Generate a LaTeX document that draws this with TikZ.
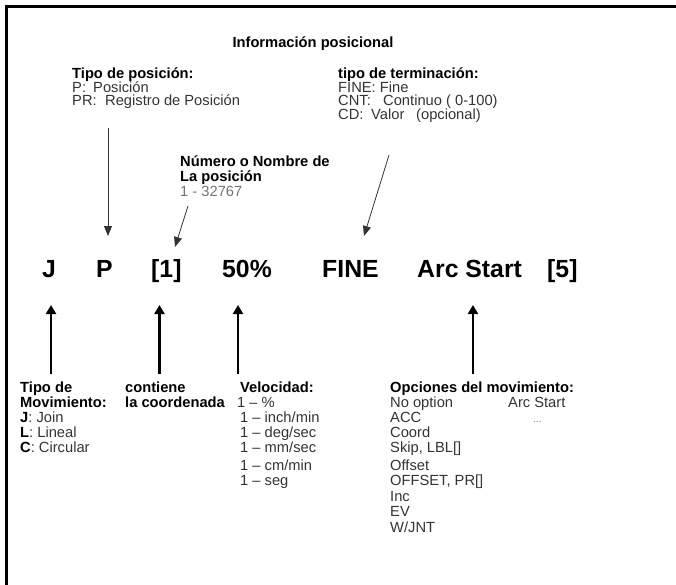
\documentclass[tikz,border=0pt]{standalone}
\usepackage{fontspec}
\setmainfont{Liberation Sans}
\usetikzlibrary{arrows.meta}
\begin{document}
\begin{tikzpicture}[x=1pt,y=-1pt,
  lbl/.style={anchor=base west, inner sep=0pt, font=\fontsize{14.7}{15}\selectfont, text=black!80},
  hd/.style={anchor=base west, inner sep=0pt, font=\fontsize{14.7}{15}\selectfont\bfseries, text=black},
  gry/.style={lbl, text=black!55},
  big/.style={anchor=base west, inner sep=0pt, font=\fontsize{24.8}{26}\selectfont\bfseries},
  thinarrow/.style={draw=black!80, line width=0.8pt, -{Triangle[length=10pt,width=8pt]}},
  thickarrow/.style={line width=2.8pt, -{Triangle[length=9pt,width=10pt]}}]
\useasboundingbox (0,0) rectangle (676,585);
\draw[line width=3pt] (676,6.5) -- (6.5,6.5) -- (6.5,585);

% title
\node[hd, anchor=base] (title) at (313,48) {Información posicional};

% top left
\node[hd] (tp) at (72,79) {Tipo de posición:};
\node[lbl] (tp1a) at (72,92.5) {P:};
\node[lbl] (tp1b) at (93,92.5) {Posición};
\node[lbl] (tp2a) at (72,106) {PR:};
\node[lbl] (tp2b) at (105,106) {Registro de Posición};

% top right
\node[hd] (tt) at (338,79) {tipo de terminación:};
\node[lbl] (tt1) at (338,92.5) {FINE: Fine};
\node[lbl] (tt2a) at (338,106) {CNT:};
\node[lbl] (tt2b) at (383,106) {Continuo ( 0-100)};
\node[lbl] (tt3a) at (338,119.5) {CD:};
\node[lbl] (tt3b) at (371,119.5) {Valor};
\node[lbl] (tt3c) at (416,119.5) {(opcional)};

% middle
\node[hd] (nn1) at (180,166.5) {Número o Nombre de};
\node[hd] (nn2) at (180,181.5) {La posición};
\node[gry] (nn3) at (180,196.5) {1 - 32767};

% big row
\node[big] (J) at (42,277) {J};
\node[big] (P) at (96,277) {P};
\node[big] (B1) at (151,277) {[1]};
\node[big] (V) at (222,277) {50\%};
\node[big] (F) at (322,277) {FINE};
\node[big] (A) at (417,277) {Arc Start};
\node[big] (B5) at (547,277) {[5]};

% thin arrows
\coordinate (p0) at (108,128);
\coordinate (p1) at (108,236);
\coordinate (n0) at (188,206);
\coordinate (n1) at (175,247);
\coordinate (f0) at (389,155);
\coordinate (f1) at (364,236);
\draw[thinarrow] (p0) -- (p1);
\draw[thinarrow] (n0) -- (n1);
\draw[thinarrow] (f0) -- (f1);

% thick arrows
\foreach \nm/\x in {aj/51, ab/159.5, av/238, aa/473}{
  \coordinate (\nm0) at (\x,374);
  \coordinate (\nm1) at (\x,305);
  \draw[thickarrow] (\nm0) -- (\nm1);
}

% bottom: tipo de movimiento
\node[hd] (tm1) at (20,392) {Tipo de};
\node[hd] (tm2) at (20,407) {Movimiento:};
\node[lbl] (tm3) at (20,422) {\textbf{\color{black}J}: Join};
\node[lbl] (tm4) at (20,437) {\textbf{\color{black}L}: Lineal};
\node[lbl] (tm5) at (20,452) {\textbf{\color{black}C}: Circular};

% contiene
\node[hd] (co1) at (125,392) {contiene};
\node[hd] (co2) at (125,407) {la coordenada};

% velocidad
\node[hd] (ve0) at (240,392) {Velocidad:};
\node[lbl] (ve1) at (237,407) {1 – \%};
\node[lbl] (ve2) at (240,422) {1 – inch/min};
\node[lbl] (ve3) at (240,437) {1 – deg/sec};
\node[lbl] (ve4) at (240,452) {1 – mm/sec};
\node[lbl] (ve5) at (240,470) {1 – cm/min};
\node[lbl] (ve6) at (240,485) {1 – seg};

% opciones
\node[hd] (op0) at (390,392) {Opciones del movimiento:};
\node[lbl] (op1) at (390,407) {No option};
\node[lbl] (op2) at (390,422) {ACC};
\node[lbl] (op3) at (390,437) {Coord};
\node[lbl] (op4) at (390,452) {Skip, LBL[]};
\node[lbl] (op5) at (390,470) {Offset};
\node[lbl] (op6) at (390,485) {OFFSET, PR[]};
\node[lbl] (op7) at (390,501) {Inc};
\node[lbl] (op8) at (390,516) {EV};
\node[lbl] (op9) at (390,532) {W/JNT};
\node[lbl] (oa1) at (508,407) {Arc Start};
\node[gry, font=\fontsize{10}{10}\selectfont] (oa2) at (533,422) {...};
\end{tikzpicture}
\end{document}
